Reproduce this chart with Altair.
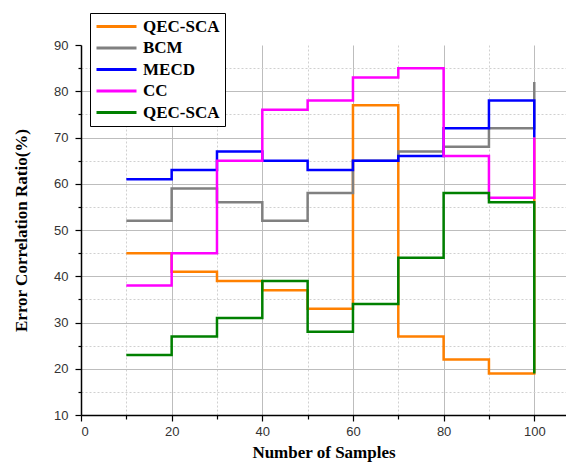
import altair as alt
import pandas as pd

samples = [10, 20, 30, 40, 50, 60, 70, 80, 90, 100]
series_names = ["QEC-SCA", "BCM", "MECD", "CC", "QEC-SCA "]
qec_sca_1 = [45, 41, 39, 37, 33, 77, 27, 22, 19, 70]
bcm = [52, 59, 56, 52, 58, 65, 67, 68, 72, 82]
mecd = [61, 63, 67, 65, 63, 65, 66, 72, 78, 70]
cc = [38, 45, 65, 76, 78, 83, 85, 66, 57, 70]
qec_sca_2 = [23, 27, 31, 39, 28, 34, 44, 58, 56, 19]
colors = ["#FF8000", "#808080", "#0000FF", "#FF00FF", "#008000"]

y_ticks = list(range(10, 91, 5))
x_ticks = list(range(0, 101, 10))

rows = []
for name, vals in zip(series_names, [qec_sca_1, bcm, mecd, cc, qec_sca_2]):
    for xv, yv in zip(samples, vals):
        rows.append({"series": name, "x": xv, "y": yv})
df = pd.DataFrame(rows)

label_font = "Liberation Sans"
title_font = "Liberation Serif"

x_enc = alt.X(
    "x:Q",
    scale=alt.Scale(domain=[0, 107], nice=False, zero=False),
    axis=alt.Axis(
        values=x_ticks,
        title="Number of Samples",
        labelExpr="datum.value % 20 === 0 ? datum.label : ''",
        tickSize={"condition": {"test": "datum.value % 20 !== 0", "value": 4}, "value": 6},
        gridDash={"condition": {"test": "datum.value % 20 !== 0", "value": [2, 2]}, "value": []},
        gridColor={"condition": {"test": "datum.value % 20 !== 0", "value": "#d0d0d0"}, "value": "#bdbdbd"},
        titlePadding=6,
    ),
)
y_enc = alt.Y(
    "y:Q",
    scale=alt.Scale(domain=[10, 90], nice=False, zero=False),
    axis=alt.Axis(
        values=y_ticks,
        title="Error Correlation Ratio(%)",
        labelExpr="datum.value % 10 === 0 ? datum.label : ''",
        labelPadding=7,
        tickSize={"condition": {"test": "datum.value % 10 !== 0", "value": 3}, "value": 6},
        gridDash={"condition": {"test": "datum.value % 10 !== 0", "value": [2, 2]}, "value": []},
        gridColor={"condition": {"test": "datum.value % 10 !== 0", "value": "#d0d0d0"}, "value": "#bdbdbd"},
        gridOpacity={"condition": {"test": "datum.value === 90", "value": 0}, "value": 1},
        titlePadding=23,
    ),
)
color_enc = alt.Color(
    "series:N",
    scale=alt.Scale(domain=series_names, range=colors),
    legend=alt.Legend(
        title=None,
        orient="none",
        legendX=9,
        legendY=-32,
        strokeColor="black",
        fillColor="white",
        padding=5,
        symbolType="stroke",
        symbolSize=1600,
        symbolStrokeWidth=3,
        labelFont=title_font,
        labelFontWeight="bold",
        labelFontSize=17,
        labelColor="black",
        labelOffset=5,
        clipHeight=17,
        rowPadding=3.5,
    ),
)

layers = []
for name in series_names:
    layers.append(
        alt.Chart(df)
        .transform_filter(alt.datum.series == name)
        .mark_line(interpolate="step-after", strokeWidth=2.5)
        .encode(x=x_enc, y=y_enc, color=color_enc)
    )

chart = (
    alt.layer(*layers)
    .properties(
        width=485,
        height=370,
        autosize=alt.AutoSizeParams(type="none"),
        padding={"left": 73, "top": 37, "right": 0, "bottom": 49},
    )
    .configure_view(stroke=None)
    .configure_axis(
        labelFont=label_font,
        labelFontSize=13,
        labelColor="#333333",
        labelPadding=4,
        titleFont=title_font,
        titleFontWeight="bold",
        titleFontSize=17,
        titleColor="black",
        domainColor="black",
        domainWidth=1.5,
        tickColor="black",
        tickWidth=1.2,
        gridWidth=1,
    )
)

chart.save("out.html", embed_options={"renderer": "svg", "actions": False})
